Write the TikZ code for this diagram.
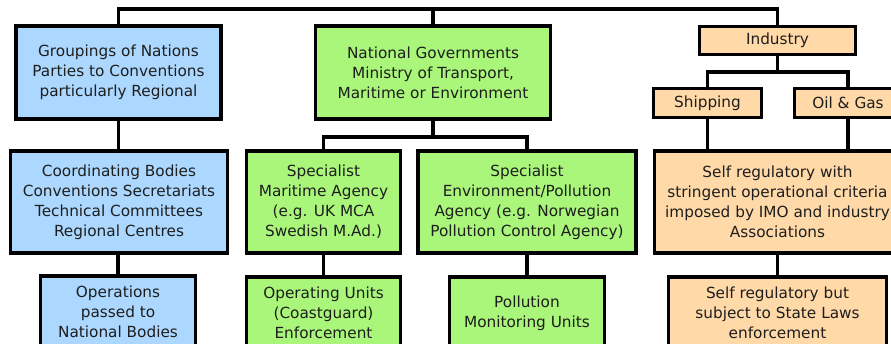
\documentclass[tikz,border=0pt]{standalone}
\usepackage{fontspec}
\setmainfont{DejaVu Sans}
\definecolor{boxblue}{RGB}{172,216,255}
\definecolor{boxgreen}{RGB}{170,246,122}
\definecolor{boxpeach}{RGB}{255,217,168}
\definecolor{inktext}{RGB}{30,30,30}
\begin{document}
\begin{tikzpicture}[x=1pt,y=-1pt,
  box/.style={draw=black, line width=3.4pt, align=center, inner sep=0pt,
    font=\fontsize{15.3}{20}\selectfont, text=inktext},
  bluebox/.style={box, fill=boxblue},
  greenbox/.style={box, fill=boxgreen},
  peachbox/.style={box, fill=boxpeach},
  link/.style={line width=3.2pt}]
\useasboundingbox (0,0) rectangle (891,344);
\clip (0,0) rectangle (891,344);

% left column: international groupings
\node[bluebox, minimum width=205, minimum height=93] (grp) at (118.5,72.5)
  {Groupings of Nations\\Parties to Conventions\\particularly Regional};
\node[bluebox, minimum width=217, minimum height=102] (coord) at (119,202)
  {Coordinating Bodies\\Conventions Secretariats\\Technical Committees\\Regional Centres};
\node[bluebox, minimum width=155, minimum height=72] (ops) at (118,312)
  {Operations\\passed to\\National Bodies};

% middle column: national governments
\node[greenbox, minimum width=235, minimum height=93] (gov) at (433,72.5)
  {National Governments\\Ministry of Transport,\\Maritime or Environment};
\node[greenbox, minimum width=154, minimum height=102] (mar) at (323.5,202)
  {Specialist\\Maritime Agency\\(e.g. UK MCA\\Swedish M.Ad.)};
\node[greenbox, minimum width=218, minimum height=102] (env) at (527,202)
  {Specialist\\Environment/Pollution\\Agency (e.g. Norwegian\\Pollution Control Agency)};
\node[greenbox, minimum width=154, minimum height=72] (unit) at (323.5,313)
  {Operating Units\\(Coastguard)\\Enforcement};
\node[greenbox, minimum width=155, minimum height=72] (mon) at (527,313)
  {Pollution\\Monitoring Units};

% right column: industry
\node[peachbox, minimum width=156, minimum height=28] (ind) at (777.5,40.5) {Industry};
\node[peachbox, minimum width=108, minimum height=29] (ship) at (707.5,103) {Shipping};
\node[peachbox, minimum width=107, minimum height=29] (oil) at (848,103) {Oil \& Gas};
\node[peachbox, minimum width=246, minimum height=102] (selfa) at (777.5,202)
  {Self regulatory with\\stringent operational criteria\\imposed by IMO and industry\\Associations};
\node[peachbox, minimum width=218, minimum height=72] (selfb) at (777.5,313)
  {Self regulatory but\\subject to State Laws\\enforcement};

% connectors
\coordinate (topbus) at (0,9);
\coordinate (govbus) at (0,137);
\coordinate (indbus) at (0,72);
\draw[link] (grp.north) -- (grp.north |- topbus) -| (ind.north);
\draw[link] (gov.north) -- (gov.north |- topbus);
\draw[link] (grp.south) -- (grp.south |- coord.north);
\draw[link] (coord.south) -- (coord.south -| ops.north) -- (ops.north);
\draw[link] (gov.south) -- (gov.south |- govbus);
\draw[link] (mar.north) -- (mar.north |- govbus) -| (env.north);
\draw[link] (mar.south) -- (unit.north);
\draw[link] (env.south) -- (mon.north);
\draw[link] (ind.south) -- (ind.south |- indbus);
\draw[link] (ship.north) -- (ship.north |- indbus) -| (oil.north);
\draw[link] (ship.south) -- (ship.south |- selfa.north);
\draw[link] (oil.south) -- (oil.south |- selfa.north);
\draw[link] (selfa.south) -- (selfb.north);
\end{tikzpicture}
\end{document}
